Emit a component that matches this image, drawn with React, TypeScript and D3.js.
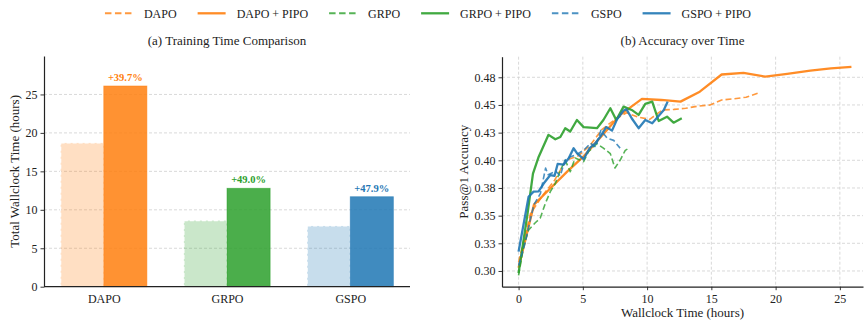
import { useEffect, useRef } from "react";
import * as d3 from "d3";

// bar chart data (hours)
const METHODS = ["DAPO", "GRPO", "GSPO"];
const BASE_HOURS = [18.7, 8.6, 7.9];
const PIPO_HOURS = [26.1, 12.8, 11.7];
const GAIN_LABELS = ["+39.7%", "+49.0%", "+47.9%"];
const COLORS = ["#ff7f0e", "#2ca02c", "#1f77b4"];
const HOUR_TICKS = [0, 5, 10, 15, 20, 25];

// accuracy curves
const DAPO_T = [0, 0.93, 1.86, 2.8, 3.7, 4.65, 5.6, 6.5, 7.4, 8.4, 9.3, 10.2, 11.2, 12.1, 13.0, 14.0, 14.9, 15.8, 16.7, 17.7, 18.6];
const DAPO_ACC = [0.308, 0.352, 0.368, 0.382, 0.4, 0.404, 0.414, 0.428, 0.436, 0.443, 0.439, 0.437, 0.4455, 0.446, 0.447, 0.449, 0.45, 0.4545, 0.4555, 0.457, 0.4605];
const DAPO_PIPO_T = [0, 1.2, 2.5, 3.8, 5.1, 6.4, 7.9, 9.6, 11.1, 12.6, 14.1, 15.8, 17.5, 19.2, 20.9, 22.7, 24.3, 25.9];
const DAPO_PIPO_ACC = [0.303, 0.36, 0.375, 0.39, 0.404, 0.421, 0.441, 0.4555, 0.4545, 0.453, 0.462, 0.4775, 0.479, 0.4756, 0.478, 0.481, 0.483, 0.4845];
const GRPO_T = [0, 0.39, 0.78, 1.3, 1.68, 2.08, 2.47, 2.86, 3.25, 3.63, 4.02, 4.4, 5.06, 5.45, 6.1, 6.6, 7.14, 7.5, 7.9, 8.3, 8.56];
const GRPO_ACC = [0.296, 0.322, 0.337, 0.3436, 0.3476, 0.361, 0.3717, 0.379, 0.391, 0.4, 0.3897, 0.402, 0.3988, 0.408, 0.415, 0.411, 0.406, 0.393, 0.4, 0.409, 0.4107];
const GRPO_PIPO_T = [0, 0.7, 1.12, 1.56, 2.33, 2.86, 3.25, 3.63, 4.02, 4.54, 5.06, 6.1, 6.6, 7.14, 7.6, 8.17, 8.8, 9.34, 9.86, 10.4, 10.9, 11.55, 12.06, 12.7];
const GRPO_PIPO_ACC = [0.298, 0.352, 0.388, 0.403, 0.423, 0.419, 0.421, 0.429, 0.426, 0.4364, 0.43, 0.429, 0.4364, 0.447, 0.4364, 0.4485, 0.4455, 0.441, 0.451, 0.453, 0.4355, 0.4394, 0.434, 0.438];
const GSPO_T = [0, 0.5, 0.9, 1.2, 1.7, 2.1, 2.3, 2.9, 3.25, 3.6, 4.0, 4.5, 5.1, 5.6, 6.0, 6.4, 6.9, 7.4, 7.9];
const GSPO_ACC = [0.305, 0.325, 0.346, 0.36, 0.37, 0.393, 0.387, 0.39, 0.386, 0.4, 0.403, 0.405, 0.4095, 0.4154, 0.412, 0.427, 0.42, 0.418, 0.411];
const GSPO_PIPO_T = [0, 0.78, 1.17, 1.56, 1.95, 2.47, 2.8, 3.04, 3.5, 3.9, 4.28, 4.54, 5.06, 5.53, 5.97, 6.36, 6.82, 7.27, 7.66, 8.17, 8.4, 8.8, 9.34, 9.86, 10.4, 11.3, 11.6];
const GSPO_PIPO_ACC = [0.3175, 0.367, 0.3717, 0.372, 0.379, 0.3867, 0.386, 0.3967, 0.396, 0.4018, 0.4109, 0.4065, 0.401, 0.411, 0.4154, 0.4214, 0.43, 0.4268, 0.437, 0.445, 0.446, 0.438, 0.429, 0.4364, 0.4334, 0.4455, 0.453];

const TIME_TICKS = [0, 5, 10, 15, 20, 25];
const ACC_TICKS = [0.3, 0.325, 0.35, 0.375, 0.4, 0.425, 0.45, 0.475];
const ACC_TICK_LABELS = ["0.30", "0.33", "0.35", "0.38", "0.40", "0.43", "0.45", "0.48"];

const SERIES = [
  { name: "DAPO", t: DAPO_T, acc: DAPO_ACC, color: COLORS[0], dashed: true },
  { name: "DAPO + PIPO", t: DAPO_PIPO_T, acc: DAPO_PIPO_ACC, color: COLORS[0], dashed: false },
  { name: "GRPO", t: GRPO_T, acc: GRPO_ACC, color: COLORS[1], dashed: true },
  { name: "GRPO + PIPO", t: GRPO_PIPO_T, acc: GRPO_PIPO_ACC, color: COLORS[1], dashed: false },
  { name: "GSPO", t: GSPO_T, acc: GSPO_ACC, color: COLORS[2], dashed: true },
  { name: "GSPO + PIPO", t: GSPO_PIPO_T, acc: GSPO_PIPO_ACC, color: COLORS[2], dashed: false },
];

const FONT = "'Liberation Serif', 'Times New Roman', serif";

export default function App() {
  const svgRef = useRef<SVGSVGElement>(null);

  useEffect(() => {
    document.body.style.margin = "0";
    const svg = d3.select(svgRef.current);
    svg.selectAll("*").remove();
    svg.attr("font-family", FONT);

    const styleAxis = (g: any) => {
      g.attr("font-family", FONT).attr("font-size", 12);
      g.select(".domain").attr("stroke", "#222").attr("stroke-width", 1.2);
      g.selectAll(".tick line").attr("stroke", "#222").attr("stroke-width", 0.9);
      g.selectAll(".tick text").attr("fill", "#222");
    };

    // ---------- (a) bars ----------
    const left = { x0: 44, x1: 410, top: 56, bottom: 286.7 };
    const x = d3.scalePoint<string>().domain(METHODS).range([left.x0, left.x1]).padding(0.485);
    const bw = x.step() * 0.35;
    const y = d3.scaleLinear().domain([0, 30]).range([left.bottom, left.top]);

    const a = svg.append("g");
    a.selectAll("line.grid")
      .data(HOUR_TICKS.slice(1))
      .join("line")
      .attr("x1", left.x0).attr("x2", left.x1)
      .attr("y1", (d) => y(d)).attr("y2", (d) => y(d))
      .attr("stroke", "#cfcfcf").attr("stroke-width", 0.8).attr("stroke-dasharray", "3,2");

    a.selectAll("rect.base")
      .data(METHODS)
      .join("rect")
      .attr("x", (m) => (x(m) as number) - bw)
      .attr("y", (_, i) => y(BASE_HOURS[i]))
      .attr("width", bw)
      .attr("height", (_, i) => y(0) - y(BASE_HOURS[i]))
      .attr("fill", (_, i) => COLORS[i]).attr("fill-opacity", 0.25)
      .attr("stroke", "#ffffff").attr("stroke-width", 1.3).attr("stroke-dasharray", "4,2");

    a.selectAll("rect.pipo")
      .data(METHODS)
      .join("rect")
      .attr("x", (m) => x(m) as number)
      .attr("y", (_, i) => y(PIPO_HOURS[i]))
      .attr("width", bw)
      .attr("height", (_, i) => y(0) - y(PIPO_HOURS[i]))
      .attr("fill", (_, i) => COLORS[i]).attr("fill-opacity", 0.85)
      .attr("stroke", (_, i) => COLORS[i]).attr("stroke-opacity", 0.6).attr("stroke-width", 0.8);

    a.selectAll("text.gain")
      .data(GAIN_LABELS)
      .join("text")
      .attr("x", (_, i) => (x(METHODS[i]) as number) + bw / 2)
      .attr("y", (_, i) => y(PIPO_HOURS[i]) - 5)
      .attr("text-anchor", "middle")
      .attr("font-size", 10.5).attr("font-weight", "bold")
      .attr("fill", (_, i) => COLORS[i])
      .text((d) => d);

    a.append("g")
      .attr("transform", `translate(0,${left.bottom})`)
      .call(d3.axisBottom(x).tickSize(0).tickSizeOuter(0).tickPadding(7.5))
      .call(styleAxis)
      .call((g: any) => g.select(".domain").attr("d", `M${left.x0},0H${left.x1}`));
    a.append("g")
      .attr("transform", `translate(${left.x0},0)`)
      .call(d3.axisLeft(y).tickValues(HOUR_TICKS).tickSize(3.5).tickSizeOuter(0).tickPadding(3))
      .call(styleAxis);

    a.append("text")
      .attr("transform", `translate(16,${(left.top + left.bottom) / 2}) rotate(-90)`)
      .attr("text-anchor", "middle").attr("dominant-baseline", "middle")
      .attr("font-size", 13).attr("fill", "#222")
      .text("Total Wallclock Time (hours)");
    a.append("text")
      .attr("x", (left.x0 + left.x1) / 2).attr("y", 45)
      .attr("text-anchor", "middle").attr("font-size", 13).attr("fill", "#222")
      .text("(a) Training Time Comparison");

    // ---------- (b) lines ----------
    const right = { x0: 502, x1: 863, top: 56.7, bottom: 286.7 };
    const xt = d3.scaleLinear().domain([-1.29, 26.8]).range([right.x0, right.x1]);
    const ya = d3.scaleLinear().domain([0.2858, 0.4936]).range([right.bottom, right.top]);

    const b = svg.append("g");
    b.selectAll("line.gx")
      .data(TIME_TICKS)
      .join("line")
      .attr("x1", (d) => xt(d)).attr("x2", (d) => xt(d))
      .attr("y1", right.top).attr("y2", right.bottom)
      .attr("stroke", "#cfcfcf").attr("stroke-width", 0.8).attr("stroke-dasharray", "3,2");
    b.selectAll("line.gy")
      .data(ACC_TICKS)
      .join("line")
      .attr("x1", right.x0).attr("x2", right.x1)
      .attr("y1", (d) => ya(d)).attr("y2", (d) => ya(d))
      .attr("stroke", "#cfcfcf").attr("stroke-width", 0.8).attr("stroke-dasharray", "3,2");

    const line = d3.line<[number, number]>().x((d) => xt(d[0])).y((d) => ya(d[1]));
    SERIES.forEach((s) => {
      const pts = s.t.map((t, i) => [t, s.acc[i]] as [number, number]);
      b.append("path")
        .datum(pts)
        .attr("d", line)
        .attr("fill", "none")
        .attr("stroke", s.color)
        .attr("stroke-width", s.dashed ? 1.6 : 2.3)
        .attr("stroke-opacity", s.dashed ? 0.8 : 0.9)
        .attr("stroke-dasharray", s.dashed ? "6,3" : null)
        .attr("stroke-linejoin", "round");
    });

    b.append("g")
      .attr("transform", `translate(0,${right.bottom})`)
      .call(d3.axisBottom(xt).tickValues(TIME_TICKS).tickFormat(d3.format("d")).tickSize(3.5).tickSizeOuter(0).tickPadding(4))
      .call(styleAxis);
    b.append("g")
      .attr("transform", `translate(${right.x0},0)`)
      .call(
        d3.axisLeft(ya).tickValues(ACC_TICKS)
          .tickFormat((_, i) => ACC_TICK_LABELS[i])
          .tickSize(3.5).tickSizeOuter(0).tickPadding(3)
      )
      .call(styleAxis);

    b.append("text")
      .attr("transform", `translate(465,${(right.top + right.bottom) / 2}) rotate(-90)`)
      .attr("text-anchor", "middle").attr("dominant-baseline", "middle")
      .attr("font-size", 13).attr("fill", "#222")
      .text("Pass@1 Accuracy");
    b.append("text")
      .attr("x", (right.x0 + right.x1) / 2).attr("y", 317)
      .attr("text-anchor", "middle").attr("font-size", 13).attr("fill", "#222")
      .text("Wallclock Time (hours)");
    b.append("text")
      .attr("x", (right.x0 + right.x1) / 2).attr("y", 45)
      .attr("text-anchor", "middle").attr("font-size", 13).attr("fill", "#222")
      .text("(b) Accuracy over Time");

    // ---------- legend ----------
    const lg = svg.append("g");
    const handleLen = 28, gapText = 11, gapItem = 21;
    let cx = 0;
    SERIES.forEach((s) => {
      const item = lg.append("g").attr("transform", `translate(${cx},0)`);
      item.append("line")
        .attr("x1", 0).attr("x2", handleLen).attr("y1", 13.3).attr("y2", 13.3)
        .attr("stroke", s.color)
        .attr("stroke-width", s.dashed ? 1.9 : 2.3)
        .attr("stroke-opacity", s.dashed ? 0.8 : 0.9)
        .attr("stroke-dasharray", s.dashed ? "6.5,3.5" : null);
      const t = item.append("text")
        .attr("x", handleLen + gapText).attr("y", 17.5)
        .attr("font-size", 12).attr("fill", "#222")
        .text(s.name);
      const w = (t.node() as SVGTextElement).getComputedTextLength();
      cx += handleLen + gapText + w + gapItem;
    });
    const total = cx - gapItem;
    lg.attr("transform", `translate(${428 - total / 2},0)`);
  }, []);

  return <svg ref={svgRef} width={864} height={324} style={{ display: "block" }} />;
}
